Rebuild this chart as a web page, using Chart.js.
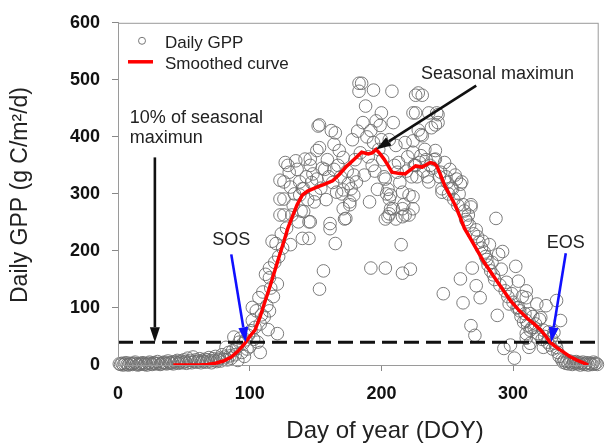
<!DOCTYPE html>
<html>
<head>
<meta charset="utf-8">
<title>Daily GPP</title>
<script src="https://cdn.jsdelivr.net/npm/chart.js@4.4.1/dist/chart.umd.min.js"></script>
<style>
  html, body { margin: 0; padding: 0; background: #fff; }
  canvas { display: block; }
</style>
</head>
<body>
<canvas id="gppChart" width="606" height="448"></canvas>
<script>
// Daily GPP observations (day of year, g C/m2/d)
const obsDoy = [
  1, 2, 3, 4, 5, 6, 7, 8, 9, 10, 11, 12, 13, 14, 15, 16, 17, 18, 19, 20,
  21, 22, 23, 24, 25, 26, 27, 28, 29, 30, 31, 32, 33, 34, 35, 36, 37, 38, 39, 40,
  41, 42, 43, 44, 45, 46, 47, 48, 49, 50, 51, 52, 53, 54, 55, 56, 57, 58, 59, 60,
  61, 62, 63, 64, 65, 66, 67, 68, 69, 70, 71, 72, 73, 74, 75, 76, 77, 78, 79, 80,
  81, 82, 83, 84, 85, 86, 87, 88, 89, 90, 91, 92, 93, 94, 95, 96, 97, 98, 99, 100,
  101, 102, 102, 103, 104, 105, 106, 107, 108, 108, 109, 110, 111, 112, 113, 114, 115, 115, 115, 116,
  117, 118, 119, 120, 121, 121, 122, 123, 123, 123, 124, 125, 126, 126, 126, 127, 128, 129, 130, 131,
  131, 132, 133, 134, 135, 136, 137, 138, 138, 139, 140, 140,
  141, 141, 142, 143, 144, 145, 145, 146, 146, 146, 147, 148, 149, 150, 151, 151, 152, 153, 153, 153,
  154, 155, 156, 157, 158, 159, 160, 161, 161, 162, 163, 164, 164, 165, 165, 166, 167, 168, 169, 170,
  171, 171, 171, 172, 173, 174, 175, 176, 176, 177, 178, 179, 179, 180,
  181, 182, 183, 183, 184, 185, 186, 187, 188, 189, 190, 191, 192, 192, 193, 194, 194, 195, 196, 197,
  198, 199, 200, 200, 201, 202, 203, 203, 203, 204, 205, 205, 206, 206, 206, 207, 207, 208, 209, 209,
  210, 211, 211, 212, 213, 214, 215, 216, 216, 216, 216, 217, 218, 218, 219, 220, 221, 221, 222, 223,
  224, 224, 224, 224, 224, 225, 226, 226, 226, 227, 228, 228, 229, 230, 230,
  231, 231, 232, 233, 234, 235, 236, 236, 237, 238, 239, 240, 241, 241, 241, 242, 243, 243, 244, 245,
  246, 246, 247, 248, 249, 250, 251, 252, 253, 254, 255, 256, 257, 258, 259, 260, 260, 261, 262, 262,
  263, 264, 265, 266, 267, 268, 268, 268, 269, 270,
  271, 272, 272, 273, 274, 275, 276, 277, 278, 279, 280, 281, 282, 283, 284, 285, 286, 287, 288, 289,
  290, 291, 292, 293, 294, 295, 296, 297, 298, 299, 300,
  301, 302, 303, 304, 304, 305, 306, 307, 308, 309, 310, 310, 310, 310, 310, 311, 312, 313, 313, 313,
  314, 315, 316, 317, 318, 318, 319, 320, 321, 322, 323, 323, 324, 325, 326, 327, 328, 329, 330,
  331, 332, 333, 333, 334, 335, 336, 337, 338, 339, 340, 341, 342, 343, 344, 345, 346, 347, 348, 349,
  350, 351, 352, 353, 354, 355, 356, 357, 358, 359, 360, 361, 362, 363, 364
];
const obsGpp = [
  2, 1, 3, 0, 2, 4, 1, 0, 3, 2, 1, 3, 5, 2, 0, 1, 3, 2, 4, 1,
  2, 0, 3, 5, 2, 1, 4, 3, 2, 6, 3, 1, 2, 4, 5, 3, 2, 7, 4, 3,
  5, 2, 6, 4, 8, 3, 5, 7, 4, 9, 6, 3, 12, 5, 8, 4, 14, 6, 9, 5,
  7, 11, 4, 8, 6, 10, 5, 9, 13, 7, 4, 11, 8, 15, 6, 9, 12, 7, 18, 10,
  14, 31, 9, 22, 16, 12, 25, 49, 18, 30, 8, 40, 47, 22, 38, 15, 44, 28, 52, 32,
  60, 101, 78, 45, 66, 95, 40, 118, 72, 22, 88, 128, 84, 159, 104, 62, 170, 95, 153, 135,
  217, 120, 180, 213, 142, 55, 190, 263, 291, 324, 230, 205, 291, 263, 321, 355, 240, 350, 338, 211,
  312, 263, 280, 300, 358, 343, 251, 298, 321, 270, 222, 309,
  309, 269, 361, 330, 290, 251, 222, 361, 350, 251, 320, 335, 286, 300, 376, 326, 419, 381, 421, 133,
  310, 345, 165, 343, 290, 360, 330, 239, 248, 411, 320, 387, 343, 407, 213, 303, 350, 376, 330, 300,
  364, 307, 274, 256, 257, 340, 318, 281, 286, 309, 395, 333, 298, 360,
  321, 410, 480, 494, 372, 494, 425, 333, 454, 400, 365, 286, 411, 170, 350, 482, 390, 340, 428, 308,
  378, 420, 442, 395, 360, 330, 326, 170, 256, 300, 308, 260, 395, 265, 291, 298, 274, 480, 425, 274,
  350, 385, 256, 338, 355, 320, 211, 303, 161, 260, 274, 281, 390, 263, 340, 365, 298, 263, 168, 330,
  393, 373, 295, 274, 442, 350, 442, 473, 350, 330, 412, 477, 355, 367, 404,
  473, 402, 340, 378, 360, 330, 442, 321, 350, 416, 345, 360, 361, 421, 376, 442, 439, 425, 330, 338,
  309, 303, 125, 355, 330, 320, 300, 343, 310, 309, 290, 333, 326, 280, 300, 317, 151, 321, 281, 109,
  270, 255, 251, 263, 245, 277, 281, 69, 170, 230,
  52, 237, 139, 225, 215, 118, 205, 217, 198, 190, 185, 175, 211, 165, 180, 158, 150, 257, 87, 194,
  140, 168, 199, 29, 130, 145, 120, 107, 35, 125, 110,
  12, 173, 100, 147, 101, 95, 85, 120, 75, 90, 130, 118, 78, 47, 55, 70, 31, 61, 90, 38,
  65, 85, 66, 72, 107, 49, 55, 80, 83, 45, 61, 31, 50, 104, 40, 58, 35, 47, 28,
  57, 38, 113, 31, 22, 15, 78, 9, 5, 8, 3, 6, 2, 7, 4, 1, 5, 3, 6, 2,
  4, 0, 3, 5, 1, 2, 4, 0, 3, 2, 1, 5, 2, 3, 1
];

// Smoothed seasonal curve
const curveDoy = [42, 50, 61, 68, 74, 80, 86, 91, 96, 100, 104, 108, 111, 115, 119, 123, 126, 129, 132, 136,
  140, 144, 151, 157, 163, 168, 173, 179, 185, 190, 193, 196, 199, 202, 205, 208, 213, 218, 222, 226,
  231, 237, 240, 242, 245, 248, 252, 256, 260, 263, 267, 271, 278, 286, 292, 298, 304, 311, 316, 321,
  325, 328, 333, 338, 343, 348, 353, 357];
const curveGpp = [0, 0, 0, 1, 3, 7, 14, 24, 37, 50, 61, 85, 107, 135, 165, 195, 217, 240, 258, 281,
  298, 305, 312, 317, 323, 334, 347, 360, 373, 370, 372, 378, 370, 361, 350, 338, 336, 335, 342, 349,
  347, 355, 353, 349, 333, 315, 298, 280, 258, 240, 224, 208, 180, 153, 133, 113, 97, 81, 72, 61,
  50, 40, 31, 23, 15, 9, 4, 0];

// 10% of the seasonal maximum, start / end of season
const threshold = 40;
const sosDoy = 97;
const eosDoy = 329;
const peakDoy = 196;
const peakGpp = 378;

const xTicks = [0, 100, 200, 300];
const yTicks = [0, 100, 200, 300, 400, 500, 600];

const FONT = '"Liberation Sans", Arial, sans-serif';

document.addEventListener("DOMContentLoaded", function() {
    const ctx = document.getElementById('gppChart').getContext('2d');

    function drawArrow(c, x1, y1, x2, y2, color) {
        const ang = Math.atan2(y2 - y1, x2 - x1);
        const headLen = 15, headW = 5;
        const bx = x2 - headLen * Math.cos(ang);
        const by = y2 - headLen * Math.sin(ang);
        c.save();
        c.strokeStyle = color;
        c.fillStyle = color;
        c.lineWidth = 2.6;
        c.beginPath();
        c.moveTo(x1, y1);
        c.lineTo(bx, by);
        c.stroke();
        c.beginPath();
        c.moveTo(x2, y2);
        c.lineTo(bx + headW * Math.sin(ang), by - headW * Math.cos(ang));
        c.lineTo(bx - headW * Math.sin(ang), by + headW * Math.cos(ang));
        c.closePath();
        c.fill();
        c.restore();
    }

    // frame, axis titles, legend and the annotations
    const decorations = {
        id: 'decorations',
        afterDraw(chart) {
            const c = chart.ctx;
            const area = chart.chartArea;
            const xs = chart.scales.x;
            const ys = chart.scales.y;
            const px = v => xs.getPixelForValue(v);
            const py = v => ys.getPixelForValue(v);

            c.save();
            c.strokeStyle = '#9a9a9a';
            c.lineWidth = 1;
            c.strokeRect(area.left + 0.5, area.top + 0.5, area.right - area.left - 1, area.bottom - area.top);

            c.fillStyle = '#222';
            c.font = '24px ' + FONT;
            c.textAlign = 'center';
            c.textBaseline = 'alphabetic';
            c.fillText('Day of year (DOY)', 385, 438);

            c.save();
            c.translate(27, 195);
            c.rotate(-Math.PI / 2);
            c.font = '23px ' + FONT;
            c.fillText('Daily GPP (g C/m\u00B2/d)', 0, 0);
            c.restore();

            // legend
            c.textAlign = 'left';
            c.font = '17px ' + FONT;
            c.strokeStyle = '#777';
            c.lineWidth = 1;
            c.beginPath();
            c.arc(area.left + 24, area.top + 18, 3.5, 0, Math.PI * 2);
            c.stroke();
            c.fillText('Daily GPP', area.left + 47, area.top + 25);
            c.strokeStyle = '#ff0000';
            c.lineWidth = 3.5;
            c.beginPath();
            c.moveTo(area.left + 10, area.top + 39);
            c.lineTo(area.left + 35, area.top + 39);
            c.stroke();
            c.fillText('Smoothed curve', area.left + 47, area.top + 46);

            // annotations
            c.font = '18px ' + FONT;
            c.fillText('10% of seasonal', px(9), py(425));
            c.fillText('maximun', px(9), py(390));
            c.fillText('Seasonal maximun', px(230), py(501));
            c.textAlign = 'center';
            c.fillText('SOS', px(86), py(211));
            c.fillText('EOS', px(340), py(205));
            c.restore();

            drawArrow(c, px(28), py(364), px(28), py(threshold), '#111');
            drawArrow(c, px(272), py(490), px(peakDoy), py(peakGpp), '#111');
            drawArrow(c, px(86), py(194), px(sosDoy), py(threshold), '#1010ff');
            drawArrow(c, px(340), py(196), px(eosDoy), py(threshold), '#1010ff');
        }
    };

    const tickFont = { family: FONT, size: 18, weight: 'bold' };

    new Chart(ctx, {
        type: 'scatter',
        data: {
            datasets: [
                {
                    label: 'Smoothed curve',
                    type: 'line',
                    data: curveDoy.map((d, i) => ({ x: d, y: curveGpp[i] })),
                    borderColor: '#ff0000',
                    borderWidth: 3.5,
                    pointRadius: 0,
                    tension: 0,
                    fill: false
                },
                {
                    label: '10% of seasonal maximun',
                    type: 'line',
                    data: [{ x: 0, y: threshold }, { x: 365, y: threshold }],
                    borderColor: '#111',
                    borderWidth: 3,
                    borderDash: [15, 7],
                    pointRadius: 0,
                    fill: false
                },
                {
                    label: 'Daily GPP',
                    data: obsDoy.map((d, i) => ({ x: d, y: obsGpp[i] })),
                    pointRadius: 6.3,
                    pointBorderWidth: 1,
                    borderColor: 'rgba(110,110,110,0.9)',
                    backgroundColor: 'rgba(0,0,0,0)',
                    clip: false
                }
            ]
        },
        options: {
            responsive: false,
            animation: false,
            layout: { padding: { top: 18, right: 1, left: 0, bottom: 0 } },
            plugins: {
                legend: { display: false },
                tooltip: { enabled: false }
            },
            scales: {
                x: {
                    type: 'linear',
                    min: 0,
                    max: 365,
                    afterFit: s => { s.height = 83; },
                    afterBuildTicks: s => { s.ticks = xTicks.map(v => ({ value: v })); },
                    ticks: { font: tickFont, color: '#111', padding: 12, maxRotation: 0 },
                    grid: {
                        drawOnChartArea: false,
                        tickLength: 6,
                        tickColor: c => c.tick && c.tick.value === 0 ? 'rgba(0,0,0,0)' : '#888'
                    },
                    border: { color: '#9a9a9a' }
                },
                y: {
                    min: 0,
                    max: 600,
                    afterFit: s => { s.width = 118; },
                    afterBuildTicks: s => { s.ticks = yTicks.map(v => ({ value: v })); },
                    ticks: { font: tickFont, color: '#111', padding: 12 },
                    grid: {
                        drawOnChartArea: false,
                        tickLength: 6,
                        tickColor: c => c.tick && c.tick.value === 0 ? 'rgba(0,0,0,0)' : '#888'
                    },
                    border: { color: '#9a9a9a' }
                }
            }
        },
        plugins: [decorations]
    });
});
</script>
</body>
</html>
